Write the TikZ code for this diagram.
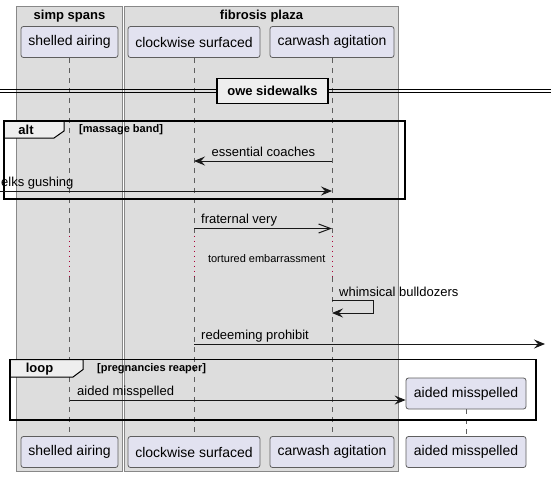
\documentclass[tikz,border=0pt]{standalone}
\usepackage{fontspec}
\setmainfont{Liberation Sans}
\usetikzlibrary{arrows.meta}

\definecolor{boxgray}{HTML}{DDDDDD}
\definecolor{boxline}{HTML}{888888}
\definecolor{partfill}{HTML}{E2E2F0}
\definecolor{partline}{HTML}{5E5E5E}
\definecolor{tabfill}{HTML}{EEEEEE}
\definecolor{delayred}{HTML}{A80036}
\definecolor{msgline}{HTML}{181818}

\tikzset{
    participant/.style={draw=partline, fill=partfill, rounded corners=2.5pt, line width=0.8pt,
        minimum height=31pt, inner sep=0pt, font=\fontsize{14}{16}\selectfont},
    grouptitle/.style={inner sep=0pt, font=\bfseries\fontsize{13}{15}\selectfont},
    lifeline/.style={draw=partline, line width=0.7pt, dash pattern=on 5pt off 5pt},
    delayline/.style={draw=delayred, line width=1pt, dash pattern=on 1pt off 4pt},
    msg/.style={draw=msgline, line width=1pt, -{Stealth[length=11pt,width=9pt,inset=4pt]}},
    msgopen/.style={draw=msgline, line width=1pt, -{Straight Barb[length=12pt,width=9pt]}},
    msglabel/.style={anchor=base west, inner sep=0pt, font=\fontsize{13}{15}\selectfont},
    framebox/.style={draw=black, line width=1.5pt},
    frametab/.style={draw=black, fill=tabfill, line width=1pt},
    framelabel/.style={inner sep=0pt, font=\bfseries\fontsize{13}{15}\selectfont},
    guardlabel/.style={anchor=west, inner sep=0pt, font=\bfseries\fontsize{11}{13}\selectfont},
    divider/.style={draw=black, fill=tabfill, line width=1.5pt, minimum width=111pt,
        minimum height=25pt, inner sep=0pt, font=\bfseries\fontsize{13}{15}\selectfont},
    divline/.style={draw=black, line width=0.8pt}
}

\begin{document}
\begin{tikzpicture}[x=1pt,y=-1pt]
                \useasboundingbox (0,0) rectangle (551,477);
                \fill[white] (0,0) rectangle (551,477);
                % boxes round the participants
                \filldraw[fill=boxgray, draw=boxline, line width=1pt] (16,6) rectangle (122.5,471);
                \filldraw[fill=boxgray, draw=boxline, line width=1pt] (124.5,6) rectangle (398.5,471);
                \node[grouptitle] (simp) at (69.5,16) {simp spans};
                \node[grouptitle] (fibrosis) at (261.5,16) {fibrosis plaza};
                % participants, top and bottom
                \node[participant, minimum width=97pt] (sa) at (69.5,42) {shelled airing};
                \node[participant, minimum width=132pt] (cs) at (194,42) {clockwise surfaced};
                \node[participant, minimum width=124pt] (ca) at (332,42) {carwash agitation};
                \node[participant, minimum width=97pt] (sa-b) at (69.5,452) {shelled airing};
                \node[participant, minimum width=132pt] (cs-b) at (194,452) {clockwise surfaced};
                \node[participant, minimum width=124pt] (ca-b) at (332,452) {carwash agitation};
                \node[participant, minimum width=120pt] (am-b) at (466,452) {aided misspelled};
                \node[participant, minimum width=120pt] (am) at (466,393.5) {aided misspelled};
                % lifelines, dotted where the delay is
                \coordinate (delay-top) at (0,235.5);
                \coordinate (delay-bot) at (0,277);
                \foreach \p in {sa,cs,ca} {
                    \draw[lifeline] (\p.south) -- (\p.south |- delay-top);
                    \draw[delayline] (\p.south |- delay-top) -- (\p.south |- delay-bot);
                    \draw[lifeline] (\p.south |- delay-bot) -- (\p-b.north);
                }
                \draw[lifeline] (am.south) -- (am-b.north);
                % divider
                \node[divider] (ow) at (272.5,91) {owe sidewalks};
                \coordinate (ow-l) at (0,91);
                \coordinate (ow-r) at (551,91);
                \draw[divline] ([yshift=1.5pt]ow-l) -- ([yshift=1.5pt]ow.west);
                \draw[divline] ([yshift=-1.5pt]ow-l) -- ([yshift=-1.5pt]ow.west);
                \draw[divline] ([yshift=1.5pt]ow.east) -- ([yshift=1.5pt]ow-r);
                \draw[divline] ([yshift=-1.5pt]ow.east) -- ([yshift=-1.5pt]ow-r);
                % alt frame
                \filldraw[frametab] (4,121) -- (64,121) -- (64,131) -- (54,138) -- (4,138) -- cycle;
                \draw[framebox] (4,121) rectangle (405,199);
                \node[framelabel] (alt) at (26,130) {alt};
                \node[guardlabel] (alt-guard) at (79,130) {[massage band]};
                \coordinate (ec-y) at (0,161);
                \draw[msg] (ca |- ec-y) -- (cs |- ec-y);
                \node[msglabel] (ec-lbl) at (211.5,156) {essential coaches};
                \coordinate (eg-start) at (0,191);
                \draw[msg] (eg-start) -- (ca |- eg-start);
                \node[msglabel] (eg-lbl) at (1,186) {elks gushing};
                % after the alt
                \coordinate (fv-y) at (0,228.5);
                \draw[msgopen] (cs |- fv-y) -- (ca |- fv-y);
                \node[msglabel] (fv-lbl) at (201,223.5) {fraternal very};
                \node[inner sep=0pt, font=\fontsize{11}{13}\selectfont] (te-lbl) at (266.7,258.3) {tortured embarrassment};
                \coordinate (wb-y) at (0,300.7);
                \coordinate (wb-y2) at (0,313);
                \draw[msg] (ca |- wb-y) -- ++(41.5,0) |- (ca |- wb-y2);
                \node[msglabel] (wb-lbl) at (339,296) {whimsical bulldozers};
                \coordinate (rp-end) at (545,344);
                \draw[msg] (cs |- rp-end) -- (rp-end);
                \node[msglabel] (rp-lbl) at (201,339) {redeeming prohibit};
                % loop frame
                \filldraw[frametab] (10,359.5) -- (83,359.5) -- (83,369.5) -- (73,377) -- (10,377) -- cycle;
                \draw[framebox] (10,359.5) rectangle (536,420);
                \node[framelabel] (loop) at (39.5,369) {loop};
                \node[guardlabel] (loop-guard) at (97,369) {[pregnancies reaper]};
                \coordinate (am-y) at (0,400);
                \draw[msg] (sa |- am-y) -- (am.west |- am-y);
                \node[msglabel] (am-lbl) at (77,395) {aided misspelled};
\end{tikzpicture}
\end{document}
